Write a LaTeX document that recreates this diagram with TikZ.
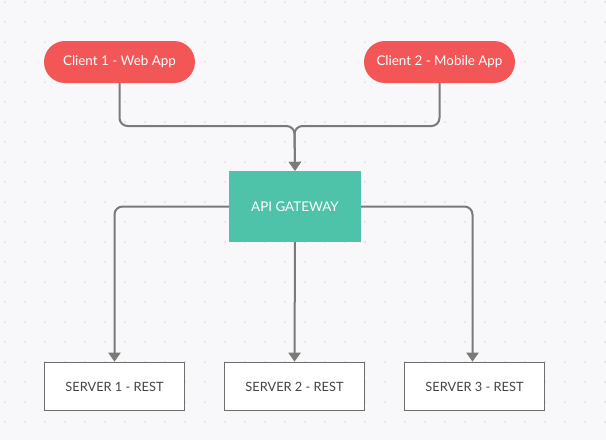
\documentclass[tikz,border=0pt]{standalone}
\usepackage{fontspec}
\setmainfont{Lato}
\usetikzlibrary{arrows.meta}
\definecolor{bgc}{HTML}{F8F8FA}
\definecolor{dotc}{HTML}{D6D6DA}
\definecolor{clientc}{HTML}{F25656}
\definecolor{gatec}{HTML}{4FC2AA}
\definecolor{linec}{HTML}{7A7A7A}
\definecolor{boxc}{HTML}{6E6E6E}
\definecolor{txtc}{HTML}{454545}
\begin{document}
\begin{tikzpicture}[x=1pt,y=-1pt,
  client/.style={fill=clientc,draw=none,rounded corners=21pt,minimum width=151pt,minimum height=42pt,text=white,font=\fontsize{13.4}{15}\selectfont,inner sep=0pt},
  gateway/.style={fill=gatec,draw=none,minimum width=132pt,minimum height=71pt,text=white,font=\fontsize{13.4}{15}\selectfont,inner sep=0pt},
  server/.style={fill=white,draw=boxc,line width=1.6pt,minimum width=140pt,minimum height=48pt,text=txtc,font=\fontsize{12.8}{14}\selectfont,inner sep=0pt},
  conn/.style={draw=linec,line width=2pt,rounded corners=8pt,-{Triangle[width=12pt,length=9pt]}}]
\useasboundingbox (0,0) rectangle (606,440);
\fill[bgc] (0,0) rectangle (606,440);
\foreach \i in {5,25,...,605} {
  \foreach \j in {2,22,...,440} {
    \fill[dotc] (\i,\j) circle (0.9pt);
  }
}
\node[client] (c1) at (119.5,62) {Client 1 - Web App};
\node[client] (c2) at (439.5,62) {Client 2 - Mobile App};
\node[gateway] (gw) at (295,206.5) {API GATEWAY};
\node[server] (s1) at (114.5,386.5) {SERVER 1 - REST};
\node[server] (s2) at (294.5,386.5) {SERVER 2 - REST};
\node[server] (s3) at (474.5,386.5) {SERVER 3 - REST};
\coordinate (m) at (294.5,126);
\draw[conn] (c1.south) |- (m) -- (gw.north);
\draw[conn] (c2.south) |- (m) -- (gw.north);
\draw[conn] (gw.west) -| (s1.north);
\draw[conn] (gw.south) -- (s2.north);
\draw[conn] (gw.east) -| ([xshift=-2pt]s3.north);
\end{tikzpicture}
\end{document}
